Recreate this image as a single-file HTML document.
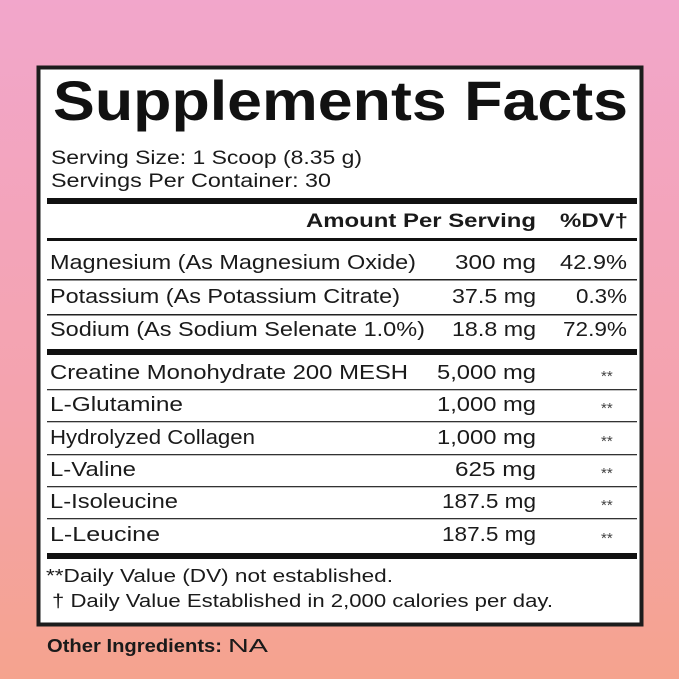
<!DOCTYPE html><html><head><style>html,body{margin:0;padding:0;width:679px;height:679px;overflow:hidden}body{background:linear-gradient(#f2a6cb,#f4a3ad 60%,#f5a38e)}</style></head><body>
<svg width="679" height="679" xmlns="http://www.w3.org/2000/svg" font-family="Liberation Sans, DejaVu Sans, sans-serif" fill="#1a1a1a" style="display:block">
<rect x="38.5" y="67.5" width="603" height="557" fill="#fff" stroke="#1c1c1c" stroke-width="4"/>
<text x="53" y="120" font-size="56" font-weight="bold" textLength="575" lengthAdjust="spacingAndGlyphs" fill="#111">Supplements Facts</text>
<text x="51" y="164" font-size="19" textLength="311" lengthAdjust="spacingAndGlyphs">Serving Size: 1 Scoop (8.35 g)</text>
<text x="51" y="187" font-size="19" textLength="280" lengthAdjust="spacingAndGlyphs">Servings Per Container: 30</text>
<rect x="47" y="198" width="590" height="6" fill="#111"/>
<text x="306" y="227" font-size="19" font-weight="bold" textLength="230" lengthAdjust="spacingAndGlyphs">Amount Per Serving</text>
<text x="560" y="227" font-size="19" font-weight="bold" textLength="68" lengthAdjust="spacingAndGlyphs">%DV†</text>
<rect x="47" y="238" width="590" height="3" fill="#111"/>
<g font-size="20">
<text x="50" y="269" textLength="366" lengthAdjust="spacingAndGlyphs">Magnesium (As Magnesium Oxide)</text>
<text x="455" y="269" textLength="81" lengthAdjust="spacingAndGlyphs">300 mg</text><text x="560" y="269" textLength="67" lengthAdjust="spacingAndGlyphs">42.9%</text>
<rect x="47" y="279" width="590" height="1.5" fill="#222"/>
<text x="50" y="303" textLength="350" lengthAdjust="spacingAndGlyphs">Potassium (As Potassium Citrate)</text>
<text x="452" y="303" textLength="84" lengthAdjust="spacingAndGlyphs">37.5 mg</text><text x="576" y="303" textLength="51" lengthAdjust="spacingAndGlyphs">0.3%</text>
<rect x="47" y="314" width="590" height="1.5" fill="#222"/>
<text x="50" y="336" textLength="375" lengthAdjust="spacingAndGlyphs">Sodium (As Sodium Selenate 1.0%)</text>
<text x="452" y="336" textLength="84" lengthAdjust="spacingAndGlyphs">18.8 mg</text><text x="563" y="336" textLength="64" lengthAdjust="spacingAndGlyphs">72.9%</text>
<rect x="47" y="349" width="590" height="6" fill="#111"/>
<text x="50" y="379" textLength="358" lengthAdjust="spacingAndGlyphs">Creatine Monohydrate 200 MESH</text><text x="437" y="379" textLength="99" lengthAdjust="spacingAndGlyphs">5,000 mg</text>
<rect x="47" y="389" width="590" height="1.3" fill="#333"/>
<text x="50" y="411" textLength="133" lengthAdjust="spacingAndGlyphs">L-Glutamine</text><text x="437" y="411" textLength="99" lengthAdjust="spacingAndGlyphs">1,000 mg</text>
<rect x="47" y="421" width="590" height="1.3" fill="#333"/>
<text x="50" y="444" textLength="205" lengthAdjust="spacingAndGlyphs">Hydrolyzed Collagen</text><text x="437" y="444" textLength="99" lengthAdjust="spacingAndGlyphs">1,000 mg</text>
<rect x="47" y="454" width="590" height="1.3" fill="#333"/>
<text x="50" y="476" textLength="86" lengthAdjust="spacingAndGlyphs">L-Valine</text><text x="455" y="476" textLength="81" lengthAdjust="spacingAndGlyphs">625 mg</text>
<rect x="47" y="486" width="590" height="1.3" fill="#333"/>
<text x="50" y="508" textLength="128" lengthAdjust="spacingAndGlyphs">L-Isoleucine</text><text x="442" y="508" textLength="94" lengthAdjust="spacingAndGlyphs">187.5 mg</text>
<rect x="47" y="518" width="590" height="1.3" fill="#333"/>
<text x="50" y="541" textLength="110" lengthAdjust="spacingAndGlyphs">L-Leucine</text><text x="442" y="541" textLength="94" lengthAdjust="spacingAndGlyphs">187.5 mg</text>
</g>
<g font-size="15" fill="#444"><text x="601" y="381">**</text><text x="601" y="413">**</text><text x="601" y="446">**</text><text x="601" y="478">**</text><text x="601" y="510">**</text><text x="601" y="543">**</text></g>
<rect x="47" y="553" width="590" height="6" fill="#111"/>
<text x="46" y="582" font-size="18" textLength="347" lengthAdjust="spacingAndGlyphs">**Daily Value (DV) not established.</text>
<text x="52" y="607" font-size="18" textLength="501" lengthAdjust="spacingAndGlyphs">† Daily Value Established in 2,000 calories per day.</text>
<text x="47" y="652" font-size="18" font-weight="bold" textLength="175" lengthAdjust="spacingAndGlyphs">Other Ingredients:</text>
<text x="228" y="652" font-size="18" textLength="40" lengthAdjust="spacingAndGlyphs">NA</text>
</svg></body></html>
